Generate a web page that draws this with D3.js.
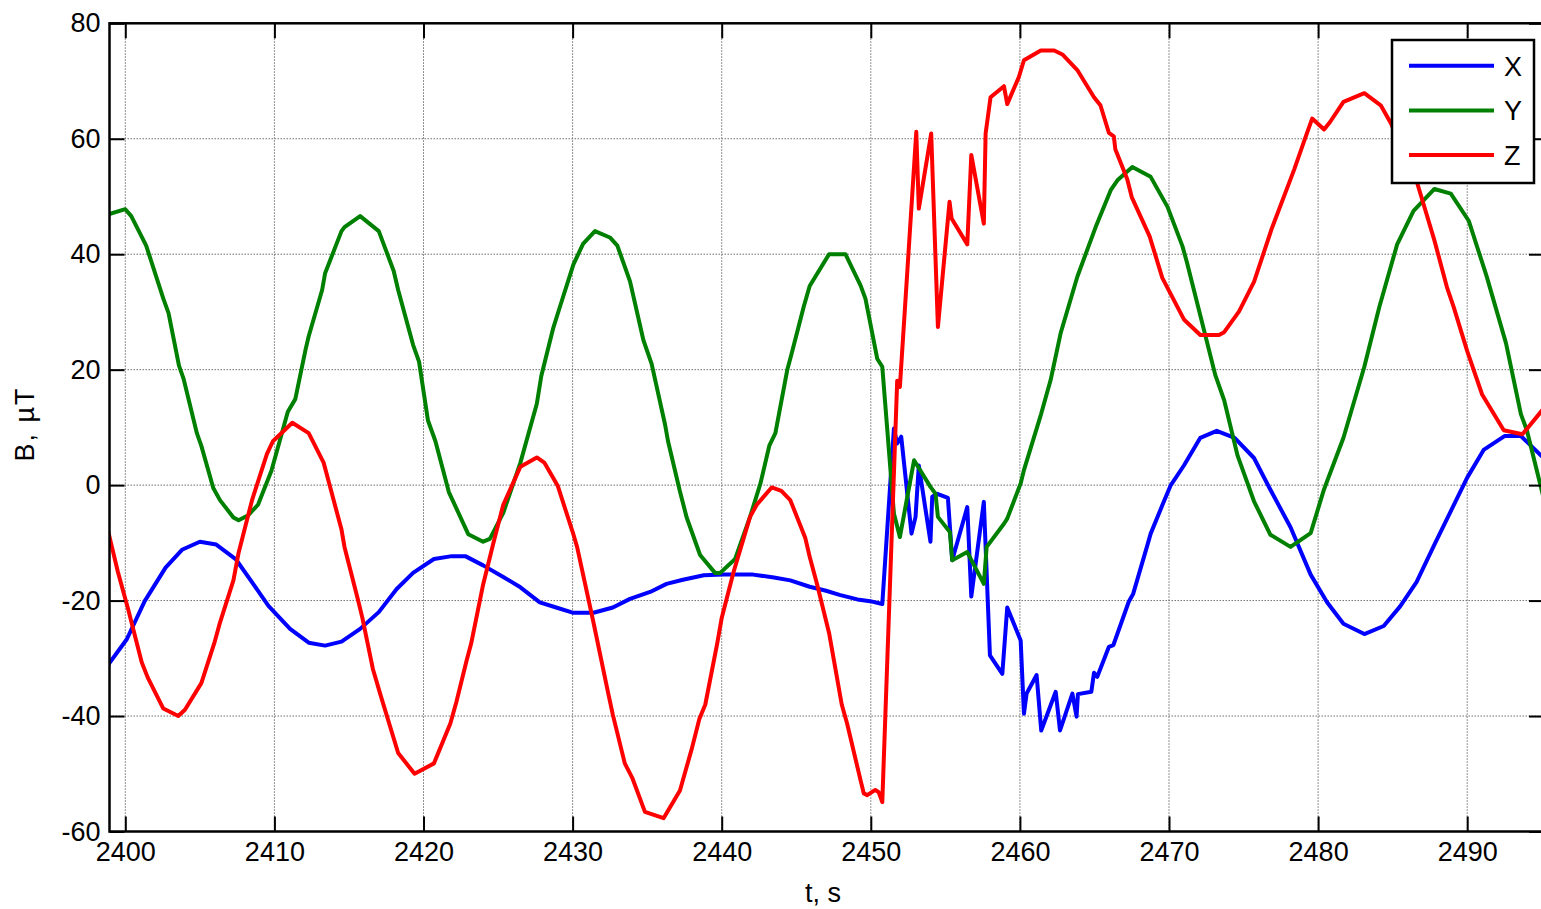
<!DOCTYPE html>
<html>
<head>
<meta charset="utf-8">
<script src="https://cdn.jsdelivr.net/npm/d3@7"></script>
<style>
  body { margin: 0; background: #fff; }
  svg { display: block; font-family: "Liberation Sans", Arial, Helvetica, sans-serif; }
</style>
</head>
<body>
<svg id="chart" width="1541" height="909"></svg>
<script>
// tick labels
var xTicks = [2400, 2410, 2420, 2430, 2440, 2450, 2460, 2470, 2480, 2490];
var yTicks = [-60, -40, -20, 0, 20, 40, 60, 80];
var seriesNames = ["X", "Y", "Z"];
var seriesColors = ["#0000ff", "#008000", "#ff0000"];

// X component (blue)
var tX = [2398.86, 2400.1, 2401.3, 2402.7, 2403.8, 2405.0, 2406.1, 2407.4, 2408.6, 2409.6,
  2411.05, 2412.3, 2413.4, 2414.5, 2415.75, 2417.0, 2418.2, 2419.3, 2420.7, 2421.9,
  2422.8, 2424.0, 2425.35, 2426.5, 2427.8, 2428.9, 2430.0, 2431.4, 2432.7, 2433.85,
  2435.2, 2436.3, 2437.4, 2438.8, 2440.1, 2442.1, 2443.5, 2444.6, 2445.9, 2447.0,
  2447.9, 2449.1, 2449.95, 2450.77, 2451.55, 2451.77, 2452.04, 2452.73, 2453.0, 2453.22,
  2454.0, 2454.12, 2454.46, 2455.17, 2455.46, 2456.47, 2456.74, 2457.58, 2457.99, 2458.82,
  2459.15, 2460.05, 2460.27, 2460.45, 2461.12, 2461.43, 2462.4, 2462.69, 2463.52, 2463.8,
  2463.89, 2464.79, 2464.97, 2465.19, 2465.97, 2466.27, 2467.3, 2467.6, 2468.55, 2468.77,
  2469.55, 2470.1, 2471.0, 2472.1, 2473.2, 2474.4, 2475.7, 2476.8, 2478.15, 2479.5,
  2480.6, 2481.7, 2483.1, 2484.4, 2485.5, 2486.6, 2487.8, 2488.9, 2490.0, 2491.1,
  2492.5, 2493.6, 2495.2];
var bX = [-31.1, -26.7, -20.1, -14.3, -11.2, -9.8, -10.3, -12.8, -17.2, -20.9,
  -24.9, -27.3, -27.8, -27.1, -24.9, -22.0, -18.0, -15.2, -12.8, -12.3,
  -12.3, -13.9, -15.9, -17.7, -20.3, -21.2, -22.1, -22.1, -21.2, -19.7,
  -18.5, -17.1, -16.4, -15.6, -15.5, -15.5, -16.0, -16.5, -17.6, -18.3,
  -19.0, -19.8, -20.1, -20.6, 9.8, 7.2, 8.4, -8.4, -5.5, 3.4,
  -9.8, -2.0, -1.5, -2.2, -13.0, -3.8, -19.3, -2.9, -29.5, -32.7,
  -21.2, -26.9, -39.6, -36.1, -32.9, -42.5, -35.8, -42.5, -36.1, -40.1,
  -36.2, -35.8, -32.5, -33.2, -28.0, -27.7, -20.2, -18.8, -10.4, -8.4,
  -3.5, -0.1, 3.4, 8.2, 9.4, 8.2, 4.7, -0.8, -7.3, -15.5,
  -20.3, -24.0, -25.8, -24.4, -21.0, -16.8, -10.3, -4.5, 1.3, 6.1,
  8.5, 8.5, 4.5];

// Y component (green)
var tY = [2398.86, 2400.0, 2400.4, 2401.4, 2402.55, 2402.9, 2403.6, 2403.9, 2404.8, 2405.1,
  2405.9, 2406.35, 2407.25, 2407.6, 2408.25, 2408.9, 2409.8, 2410.9, 2411.4, 2412.1,
  2412.3, 2413.2, 2413.4, 2414.5, 2414.7, 2415.75, 2417.0, 2418.0, 2418.3, 2419.3,
  2419.7, 2420.3, 2420.8, 2421.7, 2423.0, 2424.0, 2424.45, 2425.35, 2426.5, 2427.6,
  2427.9, 2428.7, 2429.15, 2430.05, 2430.7, 2431.5, 2432.5, 2433.0, 2433.85, 2434.75,
  2435.3, 2436.2, 2436.4, 2437.2, 2437.65, 2438.55, 2439.55, 2439.9, 2440.9, 2441.9,
  2442.6, 2443.2, 2443.6, 2444.4, 2444.7, 2445.5, 2445.9, 2447.2, 2448.3, 2449.31,
  2449.64, 2450.43, 2450.77, 2451.55, 2451.95, 2452.9, 2454.0, 2454.34, 2454.5, 2455.3,
  2455.46, 2456.47, 2457.58, 2457.77, 2458.93, 2459.15, 2460.05, 2460.27, 2461.43, 2462.06,
  2462.73, 2463.85, 2465.08, 2466.09, 2466.54, 2467.54, 2468.77, 2469.9, 2470.9, 2471.2,
  2472.1, 2473.1, 2473.7, 2474.6, 2475.7, 2476.8, 2478.15, 2479.5, 2480.4, 2481.7,
  2483.1, 2484.1, 2485.3, 2486.4, 2487.8, 2488.9, 2490.1, 2491.3, 2492.6, 2493.6,
  2494.0, 2495.2];
var bY = [46.9, 47.8, 46.6, 41.5, 32.3, 29.8, 20.7, 18.5, 9.0, 6.8,
  -0.5, -2.6, -5.6, -6.1, -5.2, -3.4, 2.5, 12.7, 14.9, 23.6,
  25.8, 33.8, 36.7, 44.0, 44.7, 46.6, 44.0, 37.1, 33.8, 24.3,
  21.4, 11.2, 7.6, -1.2, -8.5, -9.8, -9.3, -4.8, 3.9, 14.1,
  18.9, 27.2, 30.9, 38.2, 41.8, 44.0, 42.9, 41.5, 35.3, 25.1,
  21.0, 10.5, 7.6, -1.1, -5.6, -12.1, -15.2, -15.2, -12.8, -5.5,
  0.3, 6.9, 9.0, 20.0, 22.9, 30.9, 34.5, 40.0, 40.0, 34.6,
  32.3, 21.9, 20.5, -4.9, -9.0, 4.3, -0.3, -1.5, -5.5, -8.1,
  -13.0, -11.6, -17.1, -10.7, -6.7, -5.8, 0.3, 2.6, 12.4, 18.2,
  26.3, 36.1, 44.7, 51.1, 52.8, 55.1, 53.4, 48.2, 41.4, 38.6,
  29.4, 19.1, 14.7, 5.1, -2.8, -8.6, -10.7, -8.3, -0.7, 8.2,
  20.5, 30.8, 41.7, 47.5, 51.3, 50.5, 45.8, 36.2, 24.6, 12.3,
  9.5, -3.0];

// Z component (red)
var tZ = [2398.86, 2399.5, 2400.2, 2401.1, 2401.5, 2402.55, 2403.55, 2404.0, 2405.1, 2406.0,
  2406.35, 2407.25, 2407.6, 2408.5, 2409.5, 2409.9, 2411.2, 2412.3, 2413.3, 2413.6,
  2414.5, 2414.7, 2415.6, 2415.9, 2416.6, 2417.1, 2418.3, 2419.4, 2420.7, 2421.8,
  2422.2, 2422.9, 2423.2, 2424.0, 2424.7, 2425.35, 2426.5, 2427.6, 2428.1, 2429.0,
  2430.05, 2430.3, 2431.4, 2432.4, 2432.7, 2433.5, 2434.0, 2434.85, 2436.1, 2437.2,
  2438.0, 2438.5, 2438.9, 2439.7, 2440.0, 2440.8, 2441.9, 2442.35, 2443.35, 2444.0,
  2444.6, 2445.6, 2445.9, 2446.4, 2447.2, 2448.05, 2448.41, 2449.31, 2449.53, 2449.76,
  2450.3, 2450.53, 2450.77, 2451.77, 2451.95, 2453.05, 2453.22, 2454.05, 2454.5, 2455.28,
  2455.42, 2456.47, 2456.74, 2457.58, 2457.7, 2458.03, 2458.93, 2459.15, 2459.93, 2460.27,
  2461.4, 2462.3, 2462.85, 2463.85, 2464.97, 2465.4, 2465.97, 2466.3, 2466.4, 2467.2,
  2467.5, 2468.7, 2469.55, 2471.0, 2472.1, 2473.35, 2473.7, 2474.7, 2475.7, 2476.9,
  2478.4, 2479.05, 2479.6, 2480.4, 2480.8, 2481.7, 2483.1, 2484.2, 2484.9, 2485.7,
  2486.65, 2487.8, 2488.65, 2489.1, 2490.0, 2491.0, 2492.45, 2493.7, 2495.2];
var bZ = [-8.1, -15.0, -21.6, -30.7, -33.3, -38.7, -40.0, -38.9, -34.3, -27.1,
  -23.8, -16.5, -11.7, -2.6, 5.4, 7.6, 10.8, 9.0, 3.9, 1.0,
  -7.7, -10.7, -19.8, -23.0, -31.8, -36.2, -46.4, -50.0, -48.2, -41.3,
  -37.6, -30.3, -27.4, -17.2, -9.9, -3.4, 3.2, 4.8, 3.9, -0.1,
  -8.5, -10.7, -23.8, -36.2, -39.8, -48.2, -50.7, -56.6, -57.7, -52.9,
  -45.6, -40.5, -38.0, -27.4, -23.0, -15.0, -5.5, -3.4, -0.4, -1.0,
  -2.6, -9.1, -12.4, -17.2, -25.6, -38.0, -41.3, -51.1, -53.4, -53.7,
  -52.8, -53.2, -54.9, 18.1, 17.0, 61.2, 47.9, 60.9, 27.4, 49.1,
  46.2, 41.7, 57.2, 45.3, 60.9, 67.2, 69.1, 66.0, 70.7, 73.6,
  75.3, 75.3, 74.6, 71.9, 67.2, 65.8, 61.0, 60.4, 58.2, 53.0,
  49.9, 43.1, 35.9, 28.7, 26.0, 26.0, 26.5, 30.1, 35.2, 44.5,
  54.7, 59.5, 63.5, 61.6, 62.9, 66.4, 67.9, 65.8, 62.6, 57.5,
  52.3, 42.4, 34.2, 30.8, 23.2, 15.7, 9.5, 8.8, 13.5];

var series = [
  {name: seriesNames[0], color: seriesColors[0], t: tX, b: bX},
  {name: seriesNames[1], color: seriesColors[1], t: tY, b: bY},
  {name: seriesNames[2], color: seriesColors[2], t: tZ, b: bZ}
];

var svg = d3.select("#chart");

// plot box (right edge runs just past the window)
var margin = {top: 23.3, left: 109.5},
    width = 1544 - margin.left,
    height = 831.5 - margin.top;

var x = d3.scaleLinear().domain([2398.94, 2495.15]).range([0, width]),
    y = d3.scaleLinear().domain([-60, 80]).range([height, 0]);

var g = svg.append("g")
    .attr("transform", "translate(" + margin.left + "," + margin.top + ")");

g.append("clipPath").attr("id", "clip")
  .append("rect").attr("width", width).attr("height", height);

// dotted grid
g.selectAll(".gx").data(xTicks).enter().append("line")
    .attr("x1", function(d) { return x(d); }).attr("x2", function(d) { return x(d); })
    .attr("y1", 0).attr("y2", height)
    .attr("stroke", "#6e6e6e").attr("stroke-width", 1).attr("stroke-dasharray", "1.5,1.5");
g.selectAll(".gy").data(yTicks).enter().append("line")
    .attr("x1", 0).attr("x2", width)
    .attr("y1", function(d) { return y(d); }).attr("y2", function(d) { return y(d); })
    .attr("stroke", "#6e6e6e").attr("stroke-width", 1).attr("stroke-dasharray", "1.5,1.5");

// the three field components
var line = d3.line()
    .x(function(d) { return x(d[0]); })
    .y(function(d) { return y(d[1]); });

g.append("g").attr("clip-path", "url(#clip)")
  .selectAll("path").data(series).enter().append("path")
    .attr("d", function(s) { return line(d3.zip(s.t, s.b)); })
    .attr("fill", "none")
    .attr("stroke", function(s) { return s.color; })
    .attr("stroke-width", 4)
    .attr("stroke-linejoin", "round");

// axes box with inward ticks on all sides, plain hyphen minus in labels
var tickLen = 15;
var plain = function(d) { return String(d); };
g.append("g")
    .attr("transform", "translate(0," + height + ")")
    .call(d3.axisBottom(x).tickValues(xTicks).tickSize(-tickLen).tickPadding(10).tickFormat(plain))
    .call(function(a) { a.select(".domain").remove(); });
g.append("g")
    .call(d3.axisTop(x).tickValues(xTicks).tickSize(-tickLen).tickFormat(""))
    .call(function(a) { a.select(".domain").remove(); });
g.append("g")
    .call(d3.axisLeft(y).tickValues(yTicks).tickSize(-tickLen).tickPadding(9).tickFormat(plain))
    .call(function(a) { a.select(".domain").remove(); });
g.append("g")
    .attr("transform", "translate(" + width + ",0)")
    .call(d3.axisRight(y).tickValues(yTicks).tickSize(-tickLen).tickFormat(""))
    .call(function(a) { a.select(".domain").remove(); });

g.selectAll(".tick line").attr("stroke", "#000").attr("stroke-width", 2);
g.selectAll(".tick text").attr("fill", "#000")
    .style("font-size", "27px").style("font-family", "'Liberation Sans', Arial, sans-serif");

g.append("rect")
    .attr("width", width).attr("height", height)
    .attr("fill", "none").attr("stroke", "#000").attr("stroke-width", 2.5);

// axis titles
svg.append("text")
    .attr("x", 823).attr("y", 902)
    .attr("text-anchor", "middle")
    .style("font-size", "27px")
    .text("t, s");
svg.append("text")
    .attr("transform", "translate(34,424) rotate(-90)")
    .attr("text-anchor", "middle")
    .style("font-size", "27px")
    .style("letter-spacing", "2px")
    .text("B, \u00b5T");

// legend
var legend = svg.append("g").attr("transform", "translate(1392,40)");
legend.append("rect")
    .attr("width", 142).attr("height", 143)
    .attr("fill", "#fff").attr("stroke", "#000").attr("stroke-width", 2.5);
var item = legend.selectAll(".item").data(series).enter().append("g")
    .attr("transform", function(d, i) { return "translate(0," + (25.7 + i * 44.7) + ")"; });
item.append("line")
    .attr("x1", 17).attr("x2", 102)
    .attr("stroke", function(d) { return d.color; }).attr("stroke-width", 4);
item.append("text")
    .attr("x", 112).attr("y", 10)
    .style("font-size", "27px")
    .text(function(d) { return d.name; });
</script>
</body>
</html>
